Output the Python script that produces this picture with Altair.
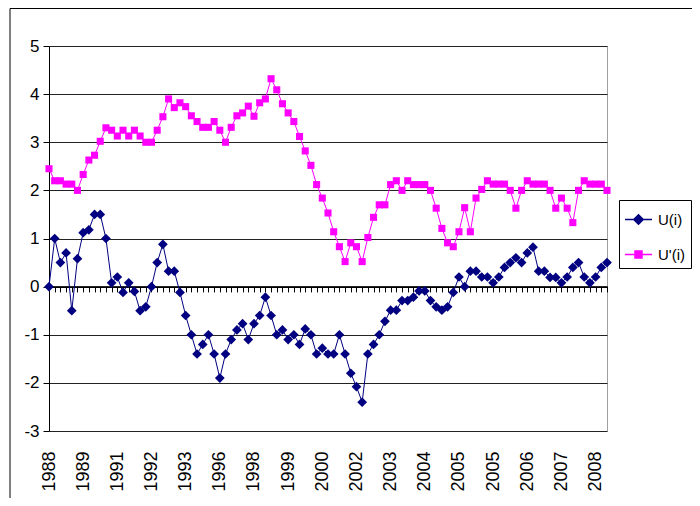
import altair as alt
import pandas as pd

# ---- data ----
x_labels = ["1988", "1989", "1991", "1992", "1993", "1996", "1998", "1999", "2000",
            "2002", "2003", "2004", "2005", "2005", "2006", "2007", "2008"]
label_step = 6

u_values = [0.0, 1.0, 0.5, 0.7, -0.5, 0.58, 1.12, 1.18, 1.5, 1.5,
            1.0, 0.08, 0.2, -0.12, 0.08, -0.1, -0.5, -0.42, 0.0, 0.5,
            0.88, 0.32, 0.32, -0.12, -0.6, -1.0, -1.4, -1.2, -1.0, -1.4,
            -1.9, -1.4, -1.1, -0.9, -0.77, -1.1, -0.77, -0.6, -0.22, -0.6,
            -1.0, -0.9, -1.1, -1.0, -1.2, -0.88, -1.0, -1.4, -1.28, -1.4,
            -1.4, -1.0, -1.4, -1.8, -2.08, -2.4, -1.4, -1.2, -1.0, -0.72,
            -0.49, -0.49, -0.29, -0.29, -0.22, -0.09, -0.09, -0.29, -0.42, -0.49,
            -0.42, -0.12, 0.2, 0.0, 0.32, 0.32, 0.2, 0.2, 0.08, 0.2,
            0.4, 0.5, 0.6, 0.5, 0.7, 0.82, 0.32, 0.32, 0.19, 0.19,
            0.08, 0.2, 0.4, 0.5, 0.2, 0.08, 0.2, 0.4, 0.5]

u_prime_values = [2.45, 2.2, 2.2, 2.13, 2.13, 2.0, 2.33, 2.63, 2.73, 3.02,
                  3.3, 3.25, 3.13, 3.25, 3.13, 3.25, 3.13, 3.0, 3.0, 3.25,
                  3.53, 3.9, 3.72, 3.82, 3.74, 3.55, 3.43, 3.31, 3.31, 3.43,
                  3.25, 3.0, 3.31, 3.55, 3.61, 3.75, 3.54, 3.82, 3.9, 4.32,
                  4.09, 3.8, 3.61, 3.43, 3.12, 2.82, 2.52, 2.12, 1.84, 1.53,
                  1.14, 0.83, 0.52, 0.91, 0.83, 0.52, 1.02, 1.44, 1.7, 1.7,
                  2.12, 2.2, 2.0, 2.2, 2.12, 2.12, 2.12, 2.0, 1.63, 1.21,
                  0.91, 0.83, 1.14, 1.64, 1.14, 1.84, 2.02, 2.2, 2.13, 2.13,
                  2.13, 2.0, 1.63, 2.0, 2.2, 2.13, 2.13, 2.13, 2.0, 1.63,
                  1.84, 1.63, 1.33, 2.0, 2.2, 2.13, 2.13, 2.13, 2.0]

series_names = ["U(i)", "U'(i)"]
series_colors = ["#000080", "#FF00FF"]
series_shapes = ["diamond", "square"]
series_sizes = [95, 50]
y_ticks = [-3, -2, -1, 0, 1, 2, 3, 4, 5]

n = len(u_values)
df = pd.DataFrame({
    "idx": list(range(n)) * 2,
    "value": u_values + u_prime_values,
    "series": [series_names[0]] * n + [series_names[1]] * n,
})

FONT = "Liberation Sans"

label_array = "[" + ",".join("'%s'" % s for s in x_labels) + "]"
label_expr = label_array + "[round(datum.value / %d)]" % label_step
label_positions = [i * label_step for i in range(len(x_labels))]

W, H = 558, 385
x_scale = alt.Scale(domain=[0, n - 1], nice=False, zero=False)
y_scale = alt.Scale(domain=[-3, 5], nice=False, zero=False)

y_axis = alt.Axis(values=y_ticks, title=None, grid=True, gridColor="#222222",
                  gridWidth=1, domainColor="black", tickColor="black", tickSize=6,
                  labelFont=FONT, labelFontSize=17, labelColor="black",
                  labelPadding=4, labelExpr="'' + datum.value")

axis_labels = alt.Axis(orient="bottom", values=label_positions, labelExpr=label_expr,
                       title=None, ticks=False, domain=False, grid=False, labelAngle=270,
                       labelAlign="right", labelBaseline="middle", labelPadding=20,
                       labelFont=FONT, labelFontSize=18, labelColor="black",
                       labelOverlap=False)

# category axis crossing at zero: line with a tick for every point
axis_zero = alt.Axis(orient="bottom", values=list(range(n)), labels=False, title=None,
                     grid=False, ticks=True, tickSize=5, tickColor="black", domain=True,
                     domainColor="black", offset=-H * 3 / 8)

# legend symbols: a short line with the series marker on it
legend_paths = ["M-1,0H1M0,-0.35L0.35,0L0,0.35L-0.35,0Z",
                "M-1,0H1M-0.26,-0.26H0.26V0.26H-0.26Z"]
legend = alt.Legend(
    orient="none", legendX=570, legendY=154, title=None,
    strokeColor="black", fillColor="white", padding=5, rowPadding=12,
    labelFont=FONT, labelFontSize=15, labelColor="black", labelOffset=5,
    labelLimit=200, symbolSize=729, symbolStrokeWidth=1.5, symbolOpacity=1,
)

base = alt.Chart(df)
X_lab = alt.X("idx:Q", scale=x_scale, axis=axis_labels)
X_zero = alt.X("idx:Q", scale=x_scale, axis=axis_zero)
Y = alt.Y("value:Q", scale=y_scale, axis=y_axis)

layers = []
border = alt.Chart(alt.Data(values=[{}])).mark_rect(
    fill="transparent", stroke="black", strokeWidth=1
).encode(
    x=alt.value(-39), x2=alt.value(800), y=alt.value(-37.5), y2=alt.value(700)
)
layers.append(border)

for k, name in enumerate(series_names):
    sub = base.transform_filter(alt.datum.series == name)
    layers.append(sub.mark_line(strokeWidth=1, color=series_colors[k]).encode(
        x=X_lab if k == 0 else X_zero, y=Y))
for k, name in enumerate(series_names):
    sub = base.transform_filter(alt.datum.series == name)
    layers.append(sub.mark_point(filled=True, opacity=1, shape=series_shapes[k],
                                 size=series_sizes[k], color=series_colors[k]).encode(
        x=X_zero, y=Y))

# hidden layer (clipped away) that only provides the legend
legend_layer = base.mark_point(clip=True, size=729, strokeWidth=1.5, opacity=1).encode(
    x=X_zero, y=Y, yOffset=alt.value(-3000),
    fill=alt.Fill("series:N", scale=alt.Scale(domain=series_names, range=series_colors), legend=legend),
    stroke=alt.Stroke("series:N", scale=alt.Scale(domain=series_names, range=series_colors), legend=legend),
    shape=alt.Shape("series:N", scale=alt.Scale(domain=series_names, range=legend_paths), legend=legend),
)
layers.append(legend_layer)

chart = alt.layer(*layers).resolve_axis(
    x="independent"
).properties(
    width=W, height=H,
    autosize=alt.AutoSizeParams(type="none"),
    padding={"left": 41, "top": 38, "right": 85, "bottom": 67},
).configure(
    font=FONT
).configure_view(
    stroke="#a0a0a0", strokeWidth=1
)

chart.save("out.html", embed_options={"renderer": "svg", "actions": False})
